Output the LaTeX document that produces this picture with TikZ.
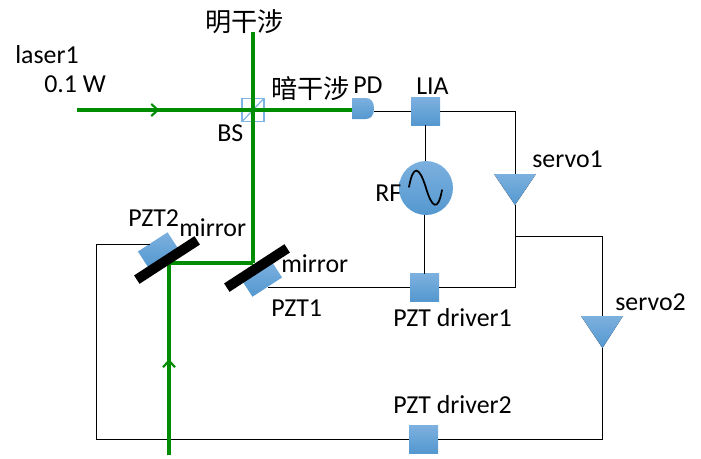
\documentclass[tikz,border=0pt]{standalone}
\usepackage{fontspec}
\setmainfont{Carlito}
\newfontfamily\cjkf{Noto Sans CJK SC}
\usetikzlibrary{arrows.meta,calc,decorations.markings}
\definecolor{beamgreen}{RGB}{0,140,0}
\definecolor{bstop}{RGB}{124,176,223}
\definecolor{bsbot}{RGB}{84,152,207}
\definecolor{bsline}{RGB}{125,180,228}
\tikzset{
  beam/.style={draw=beamgreen,line width=2.8pt},
  wire/.style={draw=black,line width=0.75pt},
  blue fill/.style={top color=bstop,bottom color=bsbot,draw=none},
  boxnode/.style={blue fill,minimum width=21.75pt,minimum height=20.5pt,inner sep=0pt,outer sep=0pt},
  pztnode/.style={blue fill,minimum width=26.5pt,minimum height=14.5pt,inner sep=0pt,outer sep=0pt,rotate=33},
  mirrornode/.style={fill=black,draw=none,minimum width=54pt,minimum height=7.5pt,inner sep=0pt,outer sep=0pt,rotate=33},
  lab/.style={inner sep=0pt,font=\fontsize{19.4pt}{22pt}\selectfont,text=black},
  cjklab/.style={inner sep=0pt,font=\cjkf\fontsize{19.6pt}{22pt}\selectfont,text=black},
  midtip/.style={postaction={decorate,decoration={markings,mark=at position #1 with {\arrow[beamgreen,line width=1.6pt]{Straight Barb[length=5pt,width=9pt]}}}}}
}
\begin{document}
\begin{tikzpicture}[x=0.75pt,y=-0.75pt]
\useasboundingbox (0,0) rectangle (701,458);
% named points
\coordinate (start) at (77,110);
\coordinate (top) at (253,32);
\coordinate (bottom) at (169,455);
\coordinate (m1) at (253,263);
\coordinate (m2) at (169,263);
\coordinate (bsc) at (253,110);
\coordinate (pdl) at (352,110);
\coordinate (pdr) at (374,111.5);
\coordinate (s1a) at (515,174);
\coordinate (s1t) at (515,205);
\coordinate (s2a) at (602.5,316);
\coordinate (s2t) at (602.5,348);
\coordinate (c1) at (515,111.5);
\coordinate (c2) at (515,287.5);
\coordinate (c3) at (515,236);
\coordinate (c4) at (602.5,236);
\coordinate (c5) at (602.5,439.5);
\coordinate (c6) at (96,439.5);
\coordinate (c7) at (96,244);
\coordinate (c8) at (150,244);
\coordinate (c9) at (268,287.5);
% wires
\node[boxnode] (lia) at (425.5,111.5) {};
\node[boxnode] (drv1) at (424.5,287.5) {};
\node[boxnode] (drv2) at (423.5,439.5) {};
\node[pztnode] (pzt1) at (262,279) {};
\node[pztnode] (pzt2) at (158,250) {};
\node[circle,blue fill,minimum size=40.5pt,inner sep=0pt,outer sep=0pt] (rf) at (426,188) {};
\draw[wire] (pdr) -- (lia);
\draw[wire] (lia.east) -- (c1) -- (s1a);
\draw[wire] (s1t) -- (c2) -- (drv1.east);
\draw[wire] (lia.south) -- (lia.south |- rf.north);
\draw[wire] (drv1.north |- rf.south) -- (drv1.north);
\draw[wire] (c9) -- (drv1.west);
\draw[wire] (c3) -- (c4) -- (s2a);
\draw[wire] (s2t) -- (c5) -- (drv2.east);
\draw[wire] (drv2.west) -- (c6) -- (c7) -- (c8);
% triangles
\fill[blue fill] (494,174) -- (536,174) -- (s1t) -- cycle;
\fill[blue fill] (581,316) -- (623,316) -- (s2t) -- cycle;
% PD
\path[blue fill] (352,98) -- (366,98) .. controls (371,98) and (374,102) .. (374,108.5) .. controls (374,115) and (371,119) .. (366,119) -- (352,119) -- cycle;
% BS
\node[draw=bsline,line width=0.9pt,fill=white,minimum width=16.5pt,minimum height=17.5pt,inner sep=0pt,outer sep=0pt] (bs) at (bsc) {};
\draw[draw=bsline,line width=0.9pt] (bs.south west) -- (bs.north east);
% beams
\draw[beam,midtip=0.3] (start) -- (pdl);
\draw[beam] (top) -- (m1);
\draw[beam] (m1) -- (m2);
\draw[beam,midtip=0.5] (bottom) -- (m2);
% mirrors
\node[mirrornode] (mir1) at (257,268) {};
\node[mirrornode] (mir2) at (167,260) {};
% sine
\draw[line width=1.3pt,line cap=round] (409,187) .. controls (413,165) and (419,165) .. (426,188) .. controls (432,208) and (438,212) .. (442,190);
% labels
\node[lab,anchor=base west] (t1) at (15,63) {laser1};
\node[lab,anchor=base west] (t2) at (44,92) {0.1 W};
\node[lab,anchor=base west] (t3) at (217,141) {BS};
\node[lab,anchor=base west] (t4) at (353,93) {PD};
\node[lab,anchor=base west] (t5) at (416,94) {LIA};
\node[lab,anchor=base west] (t6) at (532,167) {servo1};
\node[lab,anchor=base west] (t7) at (375,201) {RF};
\node[lab,anchor=base west] (t8) at (128,226) {PZT2};
\node[lab,anchor=base west] (t9) at (179,236) {mirror};
\node[lab,anchor=base west] (t10) at (281,272) {mirror};
\node[lab,anchor=base west] (t11) at (271,316) {PZT1};
\node[lab,anchor=base west] (t12) at (393,326) {PZT driver1};
\node[lab,anchor=base west] (t13) at (615,310) {servo2};
\node[lab,anchor=base west] (t14) at (393,413) {PZT driver2};
\node[cjklab,anchor=base west] (t15) at (205,31) {明干涉};
\node[cjklab,anchor=base west] (t16) at (271,98) {暗干涉};
\end{tikzpicture}
\end{document}
